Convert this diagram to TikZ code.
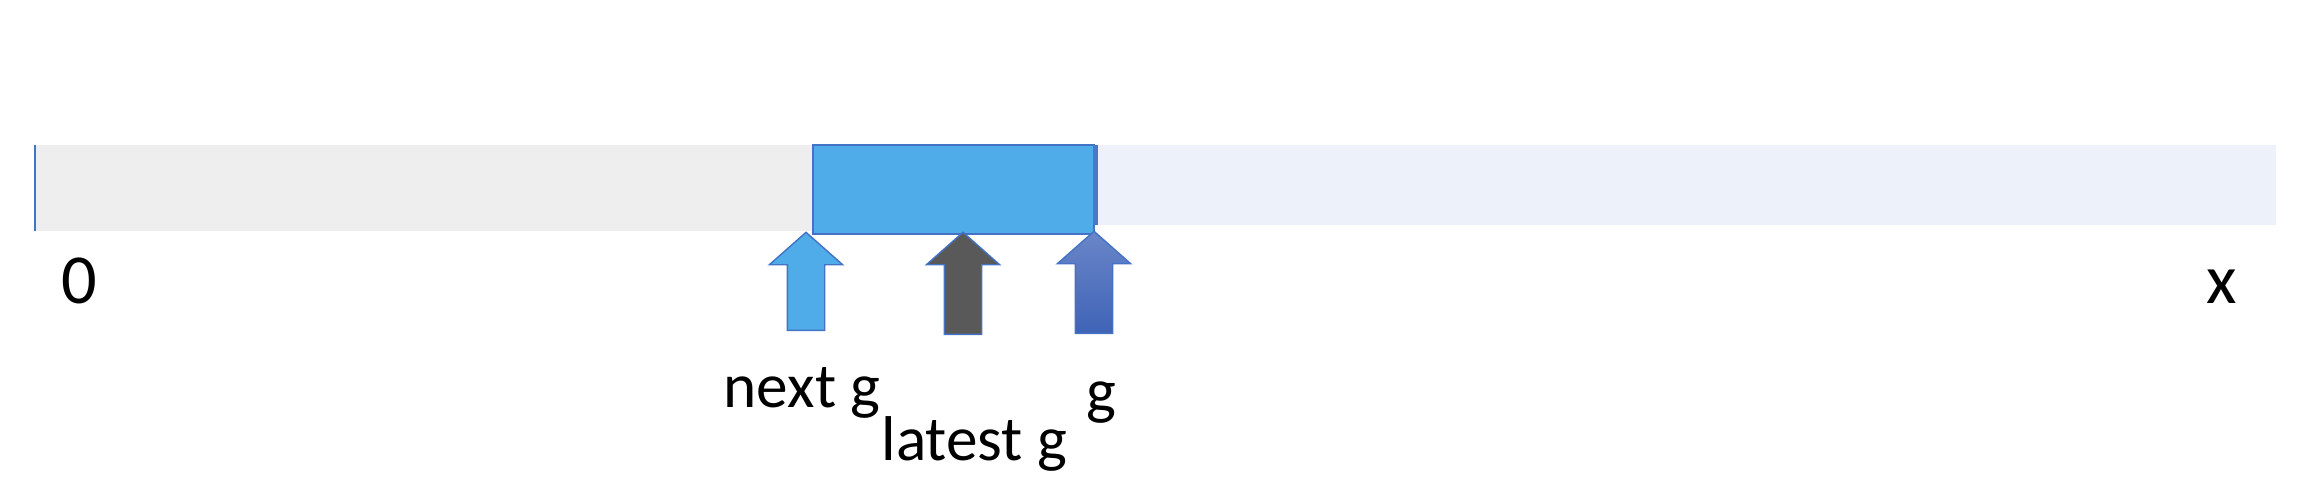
\documentclass[tikz,border=0pt]{standalone}
\usepackage{fontspec}
\setmainfont{Carlito}
\usetikzlibrary{shapes.arrows}
\definecolor{barGray}{HTML}{EEEEEE}
\definecolor{barBlue}{HTML}{EDF1F9}
\definecolor{winBlue}{HTML}{4FACE8}
\definecolor{edgeBlue}{HTML}{4472C4}
\definecolor{sliverBlue}{HTML}{4A78C8}
\definecolor{darkGray}{HTML}{595959}
\definecolor{gTop}{HTML}{6A86C9}
\definecolor{gBot}{HTML}{3F63B6}
\begin{document}
\begin{tikzpicture}[x=0.1mm, y=-0.1mm,
	uparrow/.style={single arrow, shape border rotate=90, draw=edgeBlue,
		line width=0.4pt, inner sep=1.8mm, minimum width=7.2mm,
		single arrow head extend=1.8mm, single arrow tip angle=97, anchor=tail},
	lbl/.style={inner sep=0pt, anchor=base west, font=\fontsize{18}{22}\selectfont},
	endlbl/.style={inner sep=0pt, anchor=base, font=\fontsize{20}{24}\selectfont}]
			\useasboundingbox (0,0) rectangle (2320,490);

			% the line from 0 to x
			\fill[barGray] (35,145) rectangle (815,231);
			\draw[edgeBlue, line width=0.5pt] (35,145) -- (35,231);
			\fill[barBlue] (1098,145) rectangle (2276,225);

			% window
			\node[draw=edgeBlue, fill=winBlue, line width=0.5pt, inner sep=0pt,
			minimum width=28.1mm, minimum height=8.9mm, anchor=north west]
			(window) at (812,144) {};
			\fill[sliverBlue] (1093,145) rectangle (1098,225);

			\node[uparrow, fill=winBlue, minimum height=9.8mm] (nextArrow) at (806,331) {};
			\node[uparrow, fill=darkGray, minimum height=10.2mm] (latestArrow) at (963,335) {};
			\node[uparrow, top color=gTop, bottom color=gBot, minimum height=10.2mm]
			(gArrow) at (1094,334) {};

			\node[endlbl] (zero) at (79,303) {0};
			\node[endlbl] (xend) at (2222,303) {x};
			\node[lbl] (nextLbl) at (723,407) {next g};
			\node[lbl] (latestLbl) at (881,460) {latest g};
			\node[lbl] (gLbl) at (1086,412) {g};
		\end{tikzpicture}
\end{document}
